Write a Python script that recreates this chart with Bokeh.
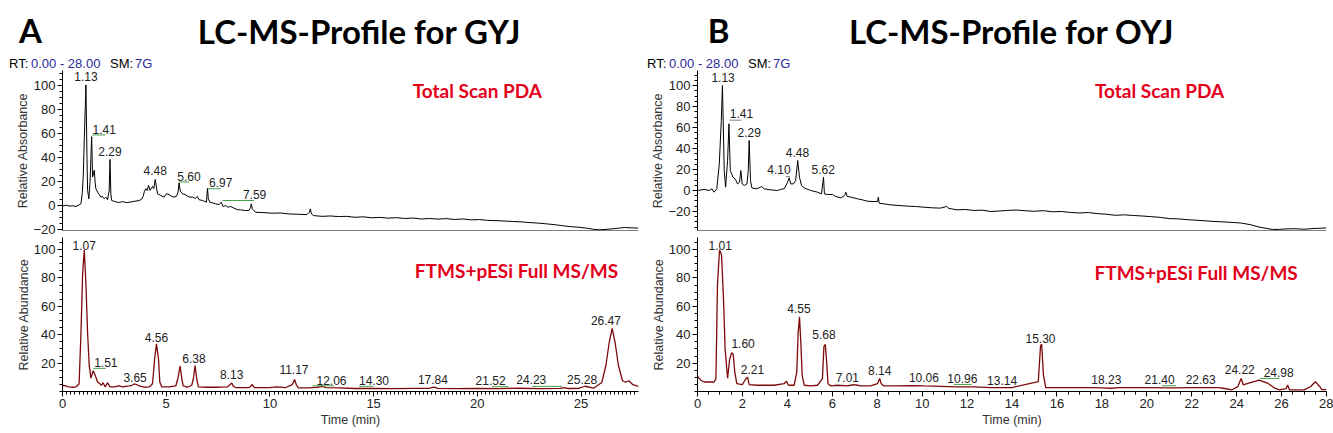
from bokeh.plotting import figure
from bokeh.layouts import row, column
from bokeh.models import (Range1d, LabelSet, Label, ColumnDataSource, Span,
                          FixedTicker, SingleIntervalTicker)
from bokeh.core.properties import value
from bokeh.embed import file_html
from bokeh.resources import INLINE

# ---------------- data ----------------
panel_letters = ["A", "B"]
panel_titles = ["LC-MS-Profile for GYJ", "LC-MS-Profile for OYJ"]
trace_names = ["Total Scan PDA", "FTMS+pESi  Full MS/MS"]
rt_parts = ["RT:", "0.00 - 28.00", "SM:", "7G"]

# GYJ - PDA total scan (time min, relative absorbance)
gyj_pda_t = [0.00, 0.20, 0.35, 0.50, 0.65, 0.80, 0.89, 0.95, 1.00, 1.05, 1.13, 1.18, 1.21, 1.27, 1.33,
             1.405, 1.45, 1.50, 1.53, 1.58, 1.61, 1.69, 1.77, 1.85, 1.93, 2.01, 2.09, 2.17, 2.25, 2.29,
             2.33, 2.37, 2.50, 2.70, 2.90, 3.10, 3.30, 3.50, 3.70, 3.80, 3.89, 3.95, 4.02, 4.08, 4.15,
             4.22, 4.34, 4.40, 4.47, 4.58, 4.74, 4.90, 5.01, 5.14, 5.27, 5.38, 5.50, 5.57, 5.62, 5.68,
             5.78, 5.91, 6.03, 6.14, 6.27, 6.40, 6.50, 6.59, 6.75, 6.86, 6.94, 6.99, 7.03, 7.10, 7.23,
             7.39, 7.55, 7.65, 7.74, 7.87, 7.98, 8.11, 8.27, 8.43, 8.59, 8.83, 8.99, 9.07, 9.10, 9.15,
             9.31, 9.71, 10.11, 10.51, 10.91, 11.39, 11.79, 11.90, 11.95, 12.00, 12.11, 12.51, 12.91,
             13.31, 13.71, 14.10, 14.50, 14.90, 15.30, 15.70, 16.10, 16.50, 16.90, 17.30, 17.70, 18.10,
             18.50, 18.90, 19.30, 19.70, 20.10, 20.50, 20.90, 21.30, 21.70, 22.10, 22.50, 22.90, 23.30,
             23.70, 24.10, 24.50, 24.90, 25.30, 25.60, 25.90, 26.20, 26.50, 26.80, 27.10, 27.40, 27.77]
gyj_pda_v = [-0.3, 0.2, -0.5, -0.2, -0.8, 0.5, 1.5, 10.0, 24.0, 55.0, 100.5, 40.0, 12.6, 5.6, 20.0,
             57.4, 23.8, 27.0, 29.4, 18.0, 14.0, 11.2, 9.2, 7.0, 7.6, 5.6, 7.0, 4.8, 12.0, 38.4,
             10.0, 4.2, 3.5, 2.5, 3.2, 2.4, 3.0, 3.6, 4.2, 5.0, 7.6, 12.0, 14.0, 12.5, 16.8,
             12.6, 16.0, 14.0, 21.7, 9.8, 8.4, 7.0, 9.8, 9.2, 7.6, 7.0, 7.8, 11.2, 18.8, 12.0,
             9.8, 9.2, 7.8, 7.0, 7.0, 5.9, 7.6, 4.8, 4.2, 3.4, 2.8, 14.6, 5.6, 2.8, 2.2,
             1.4, 0.8, 2.8, -0.8, 0.0, -1.4, -0.8, -2.2, -3.4, -3.6, -4.2, -4.2, -1.4, 1.4, -2.8,
             -5.6, -5.9, -6.4, -6.2, -7.0, -7.3, -7.6, -5.6, -2.8, -7.0, -8.4, -9.0, -8.7,
             -9.2, -9.0, -9.8, -9.4, -10.2, -9.9, -10.5, -10.1, -10.8, -10.4, -11.2, -10.8, -11.3,
             -10.9, -11.6, -11.2, -11.9, -11.7, -12.4, -12.6, -12.9, -13.3, -13.6, -14.2, -14.6, -15.2,
             -15.9, -16.8, -17.6, -18.1, -18.9, -19.8, -20.2, -19.9, -19.4, -18.9, -18.3, -18.6, -18.8]

# GYJ - MS full scan (time min, relative abundance)
gyj_ms_t = [0.00, 0.15, 0.30, 0.50, 0.64, 0.80, 0.89, 0.97, 1.05, 1.13, 1.21, 1.29, 1.37, 1.48, 1.58,
            1.69, 1.80, 1.88, 1.96, 2.06, 2.17, 2.29, 2.49, 2.73, 2.89, 3.22, 3.35, 3.46, 3.57, 3.70,
            3.94, 4.18, 4.34, 4.44, 4.53, 4.63, 4.69, 4.79, 5.14, 5.46, 5.56, 5.67, 5.75, 5.82, 6.02,
            6.23, 6.31, 6.39, 6.47, 6.55, 6.90, 7.39, 7.95, 8.08, 8.16, 8.24, 8.35, 8.99, 9.09, 9.15,
            9.25, 9.95, 10.35, 10.76, 11.08, 11.19, 11.27, 11.37, 11.88, 12.28, 12.52, 12.71, 13.32,
            14.12, 15.00, 16.00, 17.00, 17.70, 17.90, 18.10, 19.00, 20.00, 21.00, 22.00, 23.00, 24.00,
            24.20, 24.40, 24.90, 25.20, 25.60, 26.00, 26.20, 26.36, 26.50, 26.64, 26.80, 27.00, 27.15,
            27.30, 27.50, 27.77]
gyj_ms_v = [4.4, 4.0, 3.3, 3.0, 3.2, 5.5, 41.0, 82.6, 99.8, 75.7, 41.0, 18.2, 9.4, 14.7, 11.3,
            6.7, 5.5, 4.4, 6.2, 3.2, 6.2, 3.2, 3.2, 3.9, 3.2, 3.9, 4.4, 5.3, 4.9, 3.9,
            3.0, 3.2, 5.5, 22.8, 33.6, 22.8, 6.7, 3.2, 3.2, 3.9, 9.0, 17.9, 9.0, 3.9, 3.0,
            4.4, 9.0, 18.2, 9.0, 3.2, 3.0, 3.0, 3.2, 4.9, 6.0, 3.6, 2.8, 2.8, 3.9, 4.9,
            2.8, 2.8, 3.2, 2.8, 4.9, 8.5, 4.9, 2.5, 2.5, 3.0, 3.6, 2.8, 2.5,
            2.1, 2.2, 2.0, 2.2, 2.3, 3.1, 2.2, 2.0, 2.1, 2.0, 2.3, 2.0, 2.2,
            2.8, 2.1, 2.3, 3.7, 2.3, 6.3, 18.5, 34.7, 44.4, 34.7, 18.5, 7.6, 6.5,
            7.6, 4.8, 3.6]

# OYJ - PDA total scan
oyj_pda_t = [0.00, 0.30, 0.52, 0.64, 0.74, 0.86, 0.97, 1.06, 1.11, 1.19, 1.25, 1.34, 1.40, 1.46, 1.52,
             1.57, 1.63, 1.71, 1.78, 1.87, 1.93, 1.99, 2.08, 2.20, 2.26, 2.30, 2.36, 2.42, 2.60, 2.74,
             2.85, 2.97, 3.26, 3.56, 3.74, 3.86, 4.01, 4.08, 4.15, 4.27, 4.37, 4.46, 4.54, 4.63, 4.75,
             5.04, 5.34, 5.52, 5.61, 5.65, 5.78, 6.01, 6.15, 6.38, 6.55, 6.60, 6.67, 6.82, 7.12, 7.34,
             7.56, 7.86, 8.01, 8.05, 8.09, 8.30, 8.60, 8.97, 9.34, 9.71, 10.08, 10.45, 10.82, 11.09,
             11.19, 11.56, 11.93, 12.30, 12.67, 13.05, 13.40, 13.80, 14.20, 14.60, 15.00, 15.40, 15.80,
             16.20, 16.60, 17.00, 17.40, 17.80, 18.20, 18.60, 19.00, 19.40, 19.80, 20.20, 20.60, 21.00,
             21.40, 21.80, 22.20, 22.60, 23.00, 23.40, 23.80, 24.20, 24.60, 25.00, 25.30, 25.60, 25.90,
             26.20, 26.60, 27.00, 27.40, 27.80, 28.00]
oyj_pda_v = [0.0, 1.0, 0.0, 1.6, -1.6, 1.6, 25.4, 66.7, 100.0, 19.0, 3.2, 28.6, 63.5, 19.0, 15.9,
             12.7, 12.1, 9.5, 6.3, 7.9, 19.0, 6.3, 4.8, 6.3, 19.0, 47.6, 9.5, 2.5, 1.6, 2.5,
             3.8, 1.6, 0.6, 0.0, 1.3, 1.6, 7.9, 12.1, 6.3, 6.3, 9.5, 28.6, 12.7, 4.8, 2.5,
             0.0, -1.6, -3.2, 12.7, -3.2, -3.8, -3.8, -5.7, -7.0, -4.8, -1.6, -5.7, -6.3, -7.9, -8.9,
             -10.2, -10.5, -10.5, -6.3, -12.1, -12.7, -13.7, -14.3, -14.9, -15.2, -15.9, -16.5, -16.8, -15.2,
             -17.1, -18.4, -18.1, -19.0, -18.7, -20.0, -19.6, -19.0, -18.6, -19.3, -19.8, -19.2, -20.3,
             -20.0, -20.9, -21.4, -21.0, -22.0, -22.6, -23.6, -23.2, -23.8, -24.3, -24.9, -25.6, -26.8,
             -27.0, -27.8, -28.3, -28.9, -29.5, -29.9, -30.4, -31.0, -32.5, -34.8, -36.0, -37.1, -37.0,
             -36.6, -36.4, -36.9, -36.2, -35.9, -35.6]

# OYJ - MS full scan
oyj_ms_t = [0.00, 0.15, 0.30, 0.74, 0.82, 0.89, 0.98, 1.07, 1.16, 1.23, 1.34, 1.43, 1.52, 1.59, 1.66,
            1.75, 2.00, 2.15, 2.23, 2.30, 2.67, 3.04, 3.41, 3.86, 3.96, 4.05, 4.30, 4.42, 4.48, 4.54,
            4.60, 4.66, 4.75, 5.04, 5.34, 5.56, 5.63, 5.69, 5.75, 5.81, 5.93, 6.23, 6.67, 6.82, 6.97,
            7.12, 7.27, 7.71, 8.01, 8.11, 8.18, 8.30, 8.90, 9.49, 10.08, 10.82, 11.56, 12.30, 13.05,
            14.00, 15.17, 15.27, 15.32, 15.40, 15.50, 16.50, 17.60, 18.00, 18.40, 18.80, 20.00, 21.00,
            22.00, 23.20, 23.40, 23.80, 24.05, 24.20, 24.30, 24.50, 25.00, 25.40, 25.70, 25.90, 26.20,
            26.27, 26.35, 27.00, 27.30, 27.50, 27.70, 27.80, 28.00]
oyj_ms_v = [10.8, 7.9, 6.7, 6.7, 9.0, 75.6, 99.8, 96.3, 64.2, 29.6, 9.4, 22.7, 27.3, 26.2, 13.6,
            5.5, 4.9, 9.0, 10.1, 4.9, 4.4, 4.4, 4.4, 5.5, 7.2, 4.4, 4.4, 13.6, 41.2, 52.6,
            34.3, 11.3, 4.4, 3.9, 4.4, 9.0, 32.0, 33.1, 20.4, 5.5, 3.9, 4.4, 3.9, 4.4, 4.9,
            4.4, 3.9, 3.9, 5.5, 9.2, 5.5, 3.9, 3.9, 4.2, 3.9, 3.6, 3.2, 3.2, 2.8,
            2.8, 6.9, 32.2, 33.3, 11.5, 2.8, 2.8, 2.8, 2.6, 2.3, 2.8, 2.8, 2.6,
            2.8, 2.8, 2.3, 1.2, 3.4, 9.2, 4.6, 5.7, 8.0, 5.7, 2.3, 1.2, 2.0,
            4.6, 1.2, 1.2, 3.5, 6.9, 3.4, 1.2, 1.5]

# peak annotations: text, time position, height position
gyj_pda_lab = ["1.13", "1.41", "2.29", "4.48", "5.60", "6.97", "7.59"]
gyj_pda_lab_t = [1.13, 2.01, 2.29, 4.47, 6.10, 7.63, 9.26]
gyj_pda_lab_v = [107.3, 63.6, 44.8, 28.8, 24.4, 18.8, 9.2]
gyj_pda_lead = [(1.42, 2.06, 58.8), (5.59, 6.10, 19.6), (6.99, 7.63, 14.0), (7.71, 9.23, 4.2)]

gyj_ms_lab = ["1.07", "1.51", "3.65", "4.56", "6.38", "8.13", "11.17", "12.06", "14.30",
              "17.84", "21.52", "24.23", "25.28", "26.47"]
gyj_ms_lab_t = [1.05, 2.09, 3.50, 4.53, 6.34, 8.16, 11.16, 12.97, 15.02, 17.86, 20.64, 22.60, 25.05, 26.20]
gyj_ms_lab_v = [103.2, 20.5, 9.7, 38.3, 23.2, 11.7, 15.2, 7.9, 7.6, 8.8, 7.6, 8.3, 8.8, 49.9]
gyj_ms_lead = [(1.48, 2.09, 16.3), (12.05, 13.10, 4.0), (14.30, 15.00, 3.6), (20.70, 21.50, 3.4),
               (22.66, 24.08, 3.6)]

oyj_pda_lab = ["1.13", "1.41", "2.29", "4.10", "4.48", "5.62"]
oyj_pda_lab_t = [1.14, 1.96, 2.30, 3.63, 4.45, 5.60]
oyj_pda_lab_v = [107.3, 73.0, 55.7, 19.7, 36.5, 19.7]
oyj_pda_lead = [(1.42, 1.96, 67.0), (3.93, 4.11, 13.3)]

oyj_ms_lab = ["1.01", "1.60", "2.21", "4.55", "5.68", "7.01", "8.14", "10.06", "10.96", "13.14",
              "15.30", "18.23", "21.40", "22.63", "24.22", "24.98"]
oyj_ms_lab_t = [1.01, 2.03, 2.45, 4.52, 5.63, 6.67, 8.11, 10.08, 11.79, 13.56, 15.27, 18.20, 20.57,
                22.40, 24.14, 25.87]
oyj_ms_lab_v = [103.2, 33.8, 15.2, 58.4, 40.0, 10.1, 14.7, 9.6, 9.4, 8.0, 37.2, 8.5, 8.5, 8.5, 15.4, 13.1]
oyj_ms_lead = [(11.41, 12.20, 4.9), (20.68, 21.30, 4.1), (25.05, 25.90, 9.2)]

pda_yticks = [-20, 0, 20, 40, 60, 80, 100]
ms_yticks = [20, 40, 60, 80, 100]

# ---------------- styling ----------------
TICK_FONT = "Liberation Sans"
TITLE_FONT = "Lato"
RED = "#e3001b"
BLUE = "#2a2a9c"
MS_COLOR = "#7d0a0a"
GREEN = "#49a049"
W = 1333


def style_axis(ax):
    ax.axis_line_color = "black"
    ax.major_tick_line_color = "black"
    ax.minor_tick_line_color = "black"
    ax.major_tick_out = 5
    ax.major_tick_in = 0
    ax.minor_tick_out = 3
    ax.minor_tick_in = 0
    ax.major_label_standoff = 2
    ax.major_label_text_font = TICK_FONT
    ax.major_label_text_font_size = "13px"
    ax.major_label_text_color = "#222222"
    ax.axis_label_text_font = TICK_FONT
    ax.axis_label_text_font_size = "12.5px"
    ax.axis_label_text_font_style = "normal"
    ax.axis_label_text_color = "#333333"
    ax.axis_label_standoff = 0


def base_fig(width, height, xr, yr, left, right, top, bottom, with_x, with_y=True):
    p = figure(width=width, height=height, x_range=xr, y_range=yr,
               output_backend="svg", toolbar_location=None,
               x_axis_location="below" if with_x else None,
               y_axis_location="left" if with_y else None,
               min_border_left=left, min_border_right=right,
               min_border_top=top, min_border_bottom=bottom)
    p.outline_line_color = None
    p.xgrid.visible = False
    p.ygrid.visible = False
    p.background_fill_color = "white"
    p.border_fill_color = "white"
    return p


def add_labels(p, texts, ts, vs, leads, lead_color):
    src = ColumnDataSource(dict(x=ts, y=vs, text=texts))
    p.add_layout(LabelSet(x="x", y="y", text="text", source=src, text_align="center",
                          text_baseline="middle", text_font=value(TICK_FONT),
                          text_font_size=value("12px"), text_color="#222222"))
    if leads:
        p.segment(x0=[l[0] for l in leads], x1=[l[1] for l in leads],
                  y0=[l[2] for l in leads], y1=[l[2] for l in leads],
                  line_color=lead_color, line_width=1)


# ---------------- header: letters, titles, RT lines (page-pixel ranges) ----------------
head = base_fig(W, 70, Range1d(0, W), Range1d(0, 70), 0, 0, 0, 0, False, False)
letter_x = [30, 718]
title_x = [359, 1011]
rt_x = [8.5, 646.5]
rt_off = [0, 22, 101, 126]
rt_col = ["black", BLUE, "black", BLUE]
for i in range(2):
    head.add_layout(Label(x=letter_x[i], y=41, text=panel_letters[i], text_font=TITLE_FONT,
                          text_font_style="bold", text_font_size="33px", text_align="center",
                          text_baseline="middle", text_color="black"))
    head.add_layout(Label(x=title_x[i], y=40, text=panel_titles[i], text_font=TITLE_FONT,
                          text_font_style="bold", text_font_size="33px", text_align="center",
                          text_baseline="middle", text_color="black"))
    for txt, off, col in zip(rt_parts, rt_off, rt_col):
        head.add_layout(Label(x=rt_x[i] + off, y=7.5, text=txt, text_font=TICK_FONT,
                              text_font_size="13px", text_color=col, text_align="left",
                              text_baseline="middle"))


def make_panel(pda_t, pda_v, ms_t, ms_v, pda_lab, pda_labt, pda_labv, pda_lead,
               ms_lab, ms_labt, ms_labv, ms_lead, width, left, right, x_end, pda_yr, xtick,
               xminor, pda_name_t, pda_name_v, ms_name_t, ms_name_v, pda_lead_color):
    # ---- top: PDA ----
    top = base_fig(width, 167, Range1d(0, x_end), Range1d(*pda_yr), left, right, 0, 7, False)
    top.yaxis.ticker = FixedTicker(ticks=pda_yticks, minor_ticks=list(range(-35, 111, 5)))
    top.yaxis.axis_label = "Relative Absorbance"
    style_axis(top.yaxis[0])
    top.add_layout(Span(location=pda_yr[0], dimension="width", line_color="black", line_width=1))
    top.line(pda_t, pda_v, line_color="black", line_width=1)
    add_labels(top, pda_lab, pda_labt, pda_labv, pda_lead, pda_lead_color)
    top.add_layout(Label(x=pda_name_t, y=pda_name_v, text=trace_names[0], text_font=TITLE_FONT,
                         text_font_style="bold", text_font_size="19px", text_color=RED,
                         text_align="center", text_baseline="middle"))

    # ---- bottom: MS ----
    bot = base_fig(width, 196, Range1d(0, x_end), Range1d(0, 108.5), left, right, 0, 42, True)
    bot.yaxis.ticker = FixedTicker(ticks=ms_yticks, minor_ticks=list(range(0, 111, 5)))
    bot.yaxis.axis_label = "Relative Abundance"
    bot.xaxis.ticker = SingleIntervalTicker(interval=xtick, num_minor_ticks=xminor)
    bot.xaxis.axis_label = "Time (min)"
    style_axis(bot.yaxis[0])
    style_axis(bot.xaxis[0])
    bot.xaxis.axis_label_standoff = 2
    bot.line(ms_t, ms_v, line_color=MS_COLOR, line_width=1.3)
    add_labels(bot, ms_lab, ms_labt, ms_labv, ms_lead, GREEN)
    bot.add_layout(Label(x=ms_name_t, y=ms_name_v, text=trace_names[1], text_font=TITLE_FONT,
                         text_font_style="bold", text_font_size="19px", text_color=RED,
                         text_align="center", text_baseline="middle"))
    return column(top, bot)


panel_a = make_panel(gyj_pda_t, gyj_pda_v, gyj_ms_t, gyj_ms_v,
                     gyj_pda_lab, gyj_pda_lab_t, gyj_pda_lab_v, gyj_pda_lead,
                     gyj_ms_lab, gyj_ms_lab_t, gyj_ms_lab_v, gyj_ms_lead,
                     width=645, left=62, right=7, x_end=27.77, pda_yr=(-20.8, 112.5), xtick=5,
                     xminor=25, pda_name_t=20.0, pda_name_v=96.0, ms_name_t=22.0, ms_name_v=85.2,
                     pda_lead_color=GREEN)
panel_b = make_panel(oyj_pda_t, oyj_pda_v, oyj_ms_t, oyj_ms_v,
                     oyj_pda_lab, oyj_pda_lab_t, oyj_pda_lab_v, oyj_pda_lead,
                     oyj_ms_lab, oyj_ms_lab_t, oyj_ms_lab_v, oyj_ms_lead,
                     width=688, left=52, right=7, x_end=28.0, pda_yr=(-38.1, 114.3), xtick=2,
                     xminor=4, pda_name_t=20.57, pda_name_v=95.5, ms_name_t=22.3, ms_name_v=83.5,
                     pda_lead_color="#808080")

layout = column(head, row(panel_a, panel_b))
open("out.html", "w").write(file_html(layout, INLINE))
